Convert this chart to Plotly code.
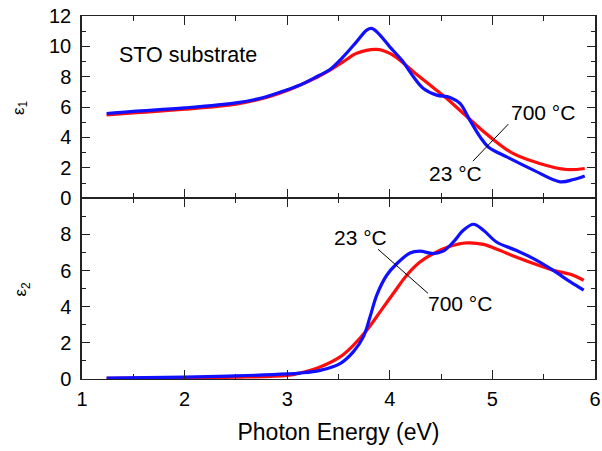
import plotly.graph_objects as go
from plotly.subplots import make_subplots

# ---- data ----
# eps1, 23 C (blue)
x_e1_23 = [1.24, 1.5, 2.0, 2.5, 2.75, 3.0, 3.125, 3.3, 3.417, 3.547, 3.677, 3.775, 3.823,
           3.888, 4.0, 4.116, 4.23, 4.327, 4.457, 4.587, 4.684, 4.78, 4.88, 4.96, 5.14,
           5.40, 5.66, 5.79, 5.90]
e1_23 = [5.58, 5.72, 5.95, 6.28, 6.6, 7.15, 7.45, 8.05, 8.48, 9.32, 10.31, 11.07, 11.18,
         10.86, 9.97, 9.10, 8.0, 7.23, 6.79, 6.64, 6.24, 5.14, 4.04, 3.38, 2.72,
         1.85, 1.08, 1.23, 1.47]
# eps1, 700 C (red)
x_e1_700 = [1.24, 1.5, 2.0, 2.5, 2.75, 3.0, 3.125, 3.3, 3.417, 3.547, 3.677, 3.872, 4.0,
            4.116, 4.23, 4.392, 4.555, 4.717, 4.88, 4.977, 5.20, 5.46, 5.72, 5.90]
e1_700 = [5.48, 5.62, 5.86, 6.2, 6.55, 7.1, 7.45, 8.0, 8.44, 8.99, 9.54, 9.80, 9.54,
          8.99, 8.33, 7.45, 6.57, 5.58, 4.59, 4.04, 2.95, 2.29, 1.89, 1.96]
# eps2, 23 C (blue)
x_e2_23 = [1.24, 2.0, 2.5, 3.0, 3.125, 3.32, 3.515, 3.644, 3.742, 3.807, 3.872, 3.97,
           4.07, 4.197, 4.294, 4.424, 4.52, 4.62, 4.717, 4.815, 4.912, 5.04, 5.23,
           5.40, 5.59, 5.76, 5.89]
e2_23 = [0.05, 0.1, 0.17, 0.28, 0.33, 0.48, 0.85, 1.5, 2.33, 3.43, 4.63, 5.74,
         6.39, 6.97, 7.07, 6.94, 7.07, 7.58, 8.23, 8.56, 8.23, 7.58, 7.12,
         6.66, 6.02, 5.37, 4.91]
# eps2, 700 C (red)
x_e2_700 = [1.24, 2.0, 2.5, 3.0, 3.125, 3.32, 3.515, 3.644, 3.775, 3.905, 4.034, 4.165,
            4.294, 4.424, 4.587, 4.75, 4.912, 5.07, 5.23, 5.40, 5.59, 5.76, 5.89]
e2_700 = [0.04, 0.07, 0.1, 0.2, 0.33, 0.66, 1.22, 1.86, 2.70, 3.71, 4.73, 5.74,
          6.47, 6.94, 7.34, 7.53, 7.45, 7.12, 6.75, 6.39, 6.02, 5.79, 5.46]

x_ticks = [1, 2, 3, 4, 5, 6]
y1_ticks = [0, 2, 4, 6, 8, 10, 12]
y2_ticks = [0, 2, 4, 6, 8]

BLUE = "#1010ff"
RED = "#ff0d0d"
FONT = "Liberation Sans"
AX = "#222222"

fig = make_subplots(rows=2, cols=1, shared_xaxes=False, vertical_spacing=0,
                    row_heights=[0.502, 0.498])

fig.add_trace(go.Scatter(x=x_e1_700, y=e1_700, mode="lines", name="700 °C",
                         line=dict(color=RED, width=3.2, shape="spline")), row=1, col=1)
fig.add_trace(go.Scatter(x=x_e1_23, y=e1_23, mode="lines", name="23 °C",
                         line=dict(color=BLUE, width=3.2, shape="spline")), row=1, col=1)
fig.add_trace(go.Scatter(x=x_e2_700, y=e2_700, mode="lines", name="700 °C",
                         line=dict(color=RED, width=3.2, shape="spline")), row=2, col=1)
fig.add_trace(go.Scatter(x=x_e2_23, y=e2_23, mode="lines", name="23 °C",
                         line=dict(color=BLUE, width=3.2, shape="spline")), row=2, col=1)

common_x = dict(range=[1, 6], tickvals=x_ticks, ticks="inside", ticklen=9, tickwidth=1,
                tickcolor=AX, showline=True, linecolor=AX, linewidth=1, mirror="ticks",
                showgrid=False, zeroline=False, automargin=False,
                ticklabeloverflow="allow",
                minor=dict(dtick=0.5, ticks="inside", ticklen=5, tickcolor=AX, tick0=1))
fig.update_xaxes(**common_x, showticklabels=False, row=1, col=1)
fig.update_xaxes(**common_x, showticklabels=True, ticklabelstandoff=2,
                 tickfont=dict(family=FONT, size=20, color="black"),
                 title=dict(text="Photon Energy (eV)", standoff=14,
                            font=dict(family=FONT, size=23, color="black")),
                 row=2, col=1)

common_y = dict(ticks="inside", ticklen=8, tickwidth=1, tickcolor=AX, showline=True,
                linecolor=AX, linewidth=1.5, mirror="ticks", showgrid=False, zeroline=False,
                automargin=False, ticklabeloverflow="allow",
                tickfont=dict(family=FONT, size=20, color="black"), ticklabelstandoff=5,
                minor=dict(dtick=1, ticks="inside", ticklen=4, tickcolor=AX))
fig.update_yaxes(**common_y, range=[0, 12], tickvals=y1_ticks, row=1, col=1)
fig.update_yaxes(**common_y, range=[0, 10], tickvals=y2_ticks, row=2, col=1)

# y-axis titles as annotations
fig.add_annotation(text="ε<sub>1</sub>", xref="paper", yref="y domain", x=-0.121, y=0.5,
                   textangle=-90, showarrow=False, xanchor="center", yanchor="middle",
                   font=dict(family=FONT, size=17, color="black"))
fig.add_annotation(text="ε<sub>2</sub>", xref="paper", yref="y2 domain", x=-0.117, y=0.5,
                   textangle=-90, showarrow=False, xanchor="center", yanchor="middle",
                   font=dict(family=FONT, size=17, color="black"))

labels = [
    ("STO substrate", "x", "y", 1.34, 9.43, 21.5),
    ("700 °C", "x", "y", 5.16, 5.67, 21),
    ("23 °C", "x", "y", 4.36, 1.65, 21),
    ("23 °C", "x2", "y2", 3.437, 7.84, 21),
    ("700 °C", "x2", "y2", 4.353, 4.19, 21),
]
for txt, xr, yr, xx, yy, fs in labels:
    fig.add_annotation(text=txt, xref=xr, yref=yr, x=xx, y=yy, showarrow=False,
                       xanchor="left", yanchor="middle",
                       font=dict(family=FONT, size=fs, color="black"))

fig.add_shape(type="line", xref="x", yref="y", x0=5.155, y0=4.88, x1=4.81, y1=2.44,
              line=dict(color="black", width=1))
fig.add_shape(type="line", xref="x2", yref="y2", x0=3.885, y0=7.18, x1=4.372, y1=4.74,
              line=dict(color="black", width=1))

fig.update_layout(width=602, height=451, showlegend=False,
                  margin=dict(l=82, r=7, t=16, b=72),
                  plot_bgcolor="white", paper_bgcolor="white")

fig.write_html("out.html", config={"displayModeBar": False},
               post_script="document.body.style.margin='0';document.body.style.padding='0';")
